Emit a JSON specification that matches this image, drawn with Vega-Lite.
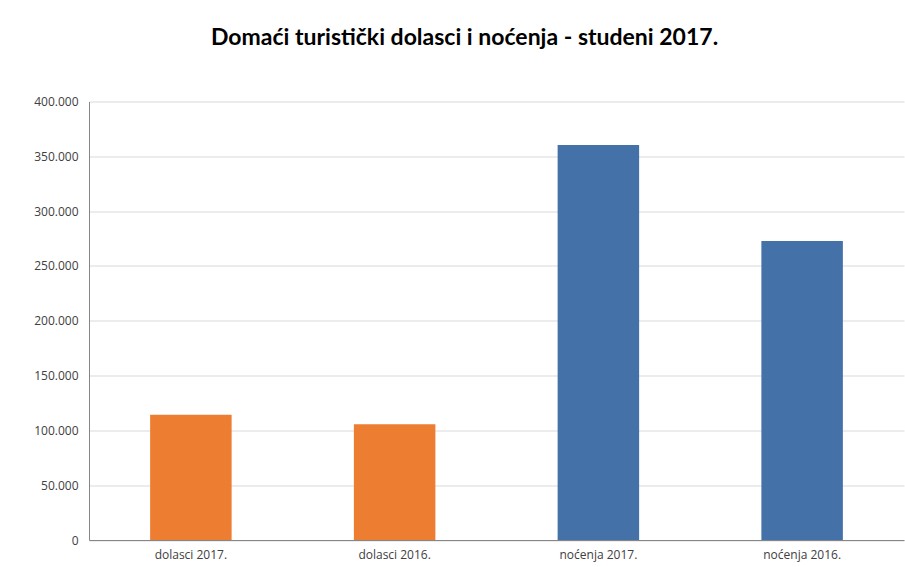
{
  "$schema": "https://vega.github.io/schema/vega-lite/v6.json",
  "width": 815,
  "height": 438.5,
  "autosize": {"type": "none"},
  "padding": {"left": 89, "top": 101.5, "right": 1, "bottom": 27},
  "background": "white",
  "title": {
    "text": "Domaći turistički dolasci i noćenja - studeni 2017.",
    "font": "Lato",
    "fontSize": 23,
    "fontWeight": "bold",
    "color": "#000000",
    "anchor": "middle",
    "dx": -32,
    "offset": 46
  },
  "data": {
    "values": [
      {"kategorija": "dolasci 2017.", "vrsta": "dolasci", "vrijednost": 114200},
      {"kategorija": "dolasci 2016.", "vrsta": "dolasci", "vrijednost": 105500},
      {"kategorija": "noćenja 2017.", "vrsta": "noćenja", "vrijednost": 360300},
      {"kategorija": "noćenja 2016.", "vrsta": "noćenja", "vrijednost": 272700}
    ]
  },
  "mark": {"type": "bar"},
  "encoding": {
    "x": {
      "field": "kategorija",
      "type": "nominal",
      "sort": null,
      "scale": {"paddingInner": 0.6, "paddingOuter": 0.3},
      "axis": {
        "title": null,
        "labelAngle": 0,
        "ticks": false,
        "domainColor": "#868686",
        "labelFont": "Open Sans",
        "labelFontSize": 12,
        "labelColor": "#404040",
        "labelPadding": 9,
        "grid": false
      }
    },
    "y": {
      "field": "vrijednost",
      "type": "quantitative",
      "scale": {"domain": [0, 400000], "nice": false},
      "axis": {
        "title": null,
        "values": [0, 50000, 100000, 150000, 200000, 250000, 300000, 350000, 400000],
        "labelExpr": "replace(format(datum.value, ','), ',', '.')",
        "ticks": false,
        "domainColor": "#868686",
        "gridColor": "#d9d9d9",
        "labelFont": "Open Sans",
        "labelFontSize": 12,
        "labelColor": "#404040",
        "labelPadding": 11
      }
    },
    "color": {
      "field": "vrsta",
      "type": "nominal",
      "scale": {"domain": ["dolasci", "noćenja"], "range": ["#ED7D31", "#4472A8"]},
      "legend": null
    }
  },
  "config": {
    "view": {"stroke": null}
  }
}
